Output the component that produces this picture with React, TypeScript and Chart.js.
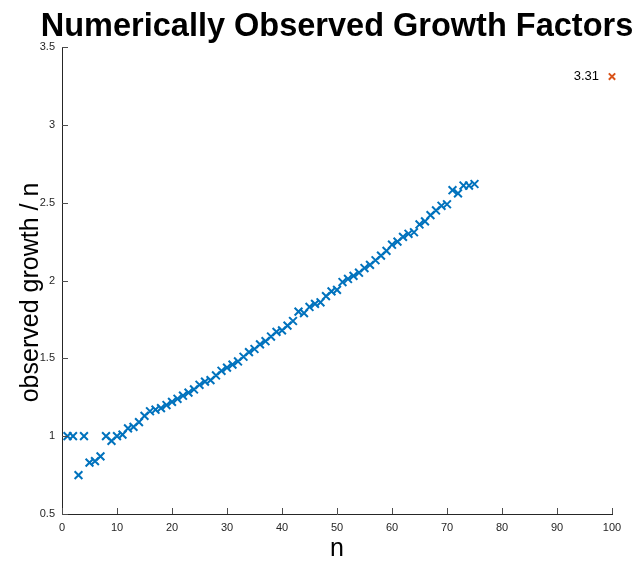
import React, { useEffect, useRef } from "react";
import { Chart, registerables } from "chart.js";

Chart.register(...registerables);

const nValues: number[] = [
  1, 2, 3, 4, 5, 6, 7, 8, 9, 10, 11, 12, 13, 14, 15, 16, 17, 18, 19, 20,
  21, 22, 23, 24, 25, 26, 27, 28, 29, 30, 31, 32, 33, 34, 35, 36, 37, 38, 39, 40,
  41, 42, 43, 44, 45, 46, 47, 48, 49, 50, 51, 52, 53, 54, 55, 56, 57, 58, 59, 60,
  61, 62, 63, 64, 65, 66, 67, 68, 69, 70, 71, 72, 73, 74, 75,
];
const growthValues: number[] = [
  1.0, 1.0, 0.75, 1.0, 0.83, 0.84, 0.87, 1.0, 0.97, 1.0,
  1.01, 1.05, 1.06, 1.09, 1.13, 1.16, 1.17, 1.18, 1.2, 1.22,
  1.24, 1.26, 1.28, 1.3, 1.33, 1.35, 1.36, 1.39, 1.42, 1.44,
  1.46, 1.48, 1.51, 1.54, 1.56, 1.59, 1.61, 1.64, 1.67, 1.68,
  1.71, 1.74, 1.8, 1.79, 1.83, 1.85, 1.86, 1.9, 1.93, 1.94,
  1.99, 2.01, 2.03, 2.05, 2.08, 2.1, 2.13, 2.16, 2.19, 2.23,
  2.25, 2.28, 2.3, 2.31, 2.36, 2.38, 2.42, 2.45, 2.48, 2.49,
  2.58, 2.56, 2.61, 2.61, 2.62,
];
const extraN: number[] = [100];
const extraValue: number[] = [3.31];
const extraLabel: string[] = ["3.31"];
const xTickValues: number[] = [0, 10, 20, 30, 40, 50, 60, 70, 80, 90, 100];
const yTickValues: number[] = [0.5, 1, 1.5, 2, 2.5, 3, 3.5];
const chartTitle = "Numerically Observed Growth Factors";
const yTitle = "observed growth / n";

const FONT = '"Liberation Sans", Arial, sans-serif';
const AXIS_COLOR = "#262626";

const innerTicks = {
  id: "innerTicks",
  afterDraw(chart: any) {
    const { ctx, chartArea, scales } = chart;
    ctx.save();
    ctx.strokeStyle = "#4d4d4d";
    ctx.lineWidth = 1;
    const len = 6;
    scales.x.ticks.forEach((t: any) => {
      const px = Math.round(scales.x.getPixelForValue(t.value)) + 0.5;
      ctx.beginPath();
      ctx.moveTo(px, chartArea.bottom);
      ctx.lineTo(px, chartArea.bottom - len);
      ctx.stroke();
    });
    scales.y.ticks.forEach((t: any) => {
      const py = Math.round(scales.y.getPixelForValue(t.value)) + 0.5;
      ctx.beginPath();
      ctx.moveTo(chartArea.left, py);
      ctx.lineTo(chartArea.left + len, py);
      ctx.stroke();
    });
    ctx.restore();
  },
};

const titlesPlugin = {
  id: "titlesPlugin",
  afterDraw(chart: any) {
    const { ctx, chartArea } = chart;
    ctx.save();
    ctx.fillStyle = "#000";
    ctx.textAlign = "center";
    ctx.textBaseline = "middle";
    ctx.font = `bold 32.5px ${FONT}`;
    ctx.fillText(chartTitle, (chartArea.left + chartArea.right) / 2, 27.5);
    ctx.translate(31, (chartArea.top + chartArea.bottom) / 2 + 12);
    ctx.rotate(-Math.PI / 2);
    ctx.font = `25px ${FONT}`;
    ctx.fillText(yTitle, 0, 0);
    ctx.restore();
  },
};

const pointLabel = {
  id: "pointLabel",
  afterDatasetsDraw(chart: any) {
    const { ctx } = chart;
    const meta = chart.getDatasetMeta(1);
    ctx.save();
    ctx.fillStyle = "#000";
    ctx.font = `13px ${FONT}`;
    ctx.textAlign = "right";
    ctx.textBaseline = "middle";
    meta.data.forEach((el: any, i: number) => {
      ctx.fillText(extraLabel[i], el.x - 13, el.y);
    });
    ctx.restore();
  },
};

export default function App() {
  const ref = useRef<HTMLCanvasElement>(null);

  useEffect(() => {
    if (!ref.current) return;
    const chart = new Chart(ref.current, {
      type: "scatter",
      data: {
        datasets: [
          {
            data: nValues.map((n, i) => ({ x: n, y: growthValues[i] })),
            pointStyle: "crossRot",
            pointRadius: 5.5,
            borderColor: "#0072BD",
            backgroundColor: "#0072BD",
            pointBorderWidth: 2,
            clip: false,
          },
          {
            data: extraN.map((n, i) => ({ x: n, y: extraValue[i] })),
            pointStyle: "crossRot",
            pointRadius: 4.5,
            borderColor: "#D95319",
            backgroundColor: "#D95319",
            pointBorderWidth: 2,
            clip: false,
          },
        ],
      },
      options: {
        responsive: false,
        animation: false,
        layout: { padding: { left: 0, right: 24, top: 47, bottom: 0 } },
        plugins: {
          legend: { display: false },
          tooltip: { enabled: false },
          title: { display: false },
        },
        scales: {
          x: {
            type: "linear",
            min: 0,
            max: 100,
            afterBuildTicks: (scale: any) => {
              scale.ticks = xTickValues.map((v) => ({ value: v }));
            },
            afterFit: (scale: any) => {
              scale.height = 47;
            },
            grid: { display: true, drawOnChartArea: false, drawTicks: false },
            border: { display: true, color: AXIS_COLOR, width: 1 },
            ticks: {
              color: AXIS_COLOR,
              font: { family: FONT, size: 11 },
              padding: 7,
              maxRotation: 0,
              autoSkip: false,
              callback: (v: any) => String(v),
            },
            title: {
              display: true,
              text: "n",
              color: "#000",
              font: { family: FONT, size: 25, lineHeight: 1.2 },
              padding: { top: 0, bottom: -3 },
            },
          },
          y: {
            type: "linear",
            min: 0.5,
            max: 3.5,
            afterBuildTicks: (scale: any) => {
              scale.ticks = yTickValues.map((v) => ({ value: v }));
            },
            afterFit: (scale: any) => {
              scale.width = 62;
            },
            grid: { display: true, drawOnChartArea: false, drawTicks: false },
            border: { display: true, color: AXIS_COLOR, width: 1 },
            ticks: {
              color: AXIS_COLOR,
              font: { family: FONT, size: 11 },
              padding: 7,
              autoSkip: false,
              callback: (v: any) => String(v),
            },
            title: { display: false },
          },
        },
      },
      plugins: [innerTicks, titlesPlugin, pointLabel],
    });
    return () => chart.destroy();
  }, []);

  return (
    <div style={{ position: "absolute", left: 0, top: 0, width: 636, height: 561, background: "#fff" }}>
      <canvas ref={ref} width={636} height={561} />
    </div>
  );
}
